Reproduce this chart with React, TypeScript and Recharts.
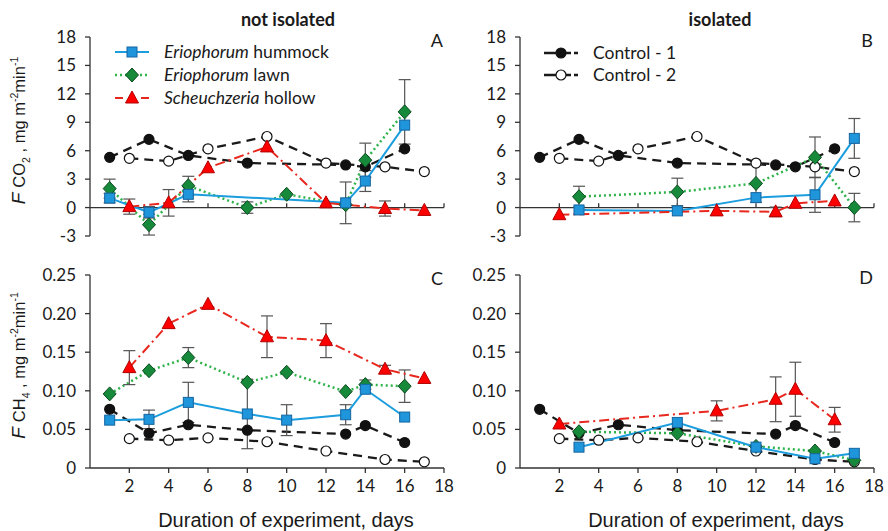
import React from 'react';
import { LineChart, Line, XAxis, YAxis, ErrorBar, ReferenceLine } from 'recharts';

const xTicks = [2, 4, 6, 8, 10, 12, 14, 16, 18];
const co2Ticks = [-3, 0, 3, 6, 9, 12, 15, 18];
const ch4Ticks = [0, 0.05, 0.1, 0.15, 0.2, 0.25];

// controls (same in both columns)
const control1Days = [1, 3, 5, 8, 13, 14, 16];
const control1Co2 = [5.3, 7.2, 5.5, 4.7, 4.5, 4.3, 6.2];
const control1Ch4 = [0.076, 0.045, 0.056, 0.049, 0.044, 0.055, 0.033];
const control2Days = [2, 4, 6, 9, 12, 15, 17];
const control2Co2 = [5.2, 4.9, 6.2, 7.5, 4.7, 4.3, 3.8];
const control2Ch4 = [0.038, 0.036, 0.039, 0.034, 0.022, 0.011, 0.008];

// A - CO2, not isolated
const hummockDaysA = [1, 3, 5, 13, 14, 16];
const hummockCo2A = [1.0, -0.5, 1.4, 0.5, 2.8, 8.7];
const hummockCo2ErrA = [0.5, 0.6, 0.8, 2.2, 1.1, 0];
const lawnDaysA = [1, 3, 5, 8, 10, 13, 14, 16];
const lawnCo2A = [2.0, -1.8, 2.3, 0, 1.4, 0.3, 5.0, 10.1];
const lawnCo2ErrA = [1.0, 1.1, 1.0, 0.6, 0, 0, 1.8, 3.4];
const hollowDaysA = [2, 4, 6, 9, 12, 15, 17];
const hollowCo2A = [0.1, 0.5, 4.2, 6.4, 0.5, -0.1, -0.3];
const hollowCo2ErrA = [0.8, 1.4, 0, 0, 0, 0.8, 0];

// B - CO2, isolated
const hummockDaysB = [3, 8, 12, 15, 17];
const hummockCo2B = [-0.25, -0.35, 1.05, 1.35, 7.3];
const hummockCo2ErrB = [0, 0, 0, 1.85, 2.1];
const lawnDaysB = [3, 8, 12, 15, 17];
const lawnCo2B = [1.15, 1.65, 2.55, 5.3, 0];
const lawnCo2ErrB = [1.1, 1.45, 2.0, 2.15, 1.5];
const hollowDaysB = [2, 10, 13, 14, 16];
const hollowCo2B = [-0.75, -0.35, -0.45, 0.45, 0.7];
const hollowCo2ErrB = [0, 0, 0.5, 0, 0];

// C - CH4, not isolated
const hummockDaysC = [1, 3, 5, 8, 10, 13, 14, 16];
const hummockCh4C = [0.062, 0.063, 0.085, 0.07, 0.062, 0.069, 0.102, 0.066];
const hummockCh4ErrC = [0, 0.012, 0.026, 0.045, 0.02, 0.013, 0, 0];
const lawnDaysC = [1, 3, 5, 8, 10, 13, 14, 16];
const lawnCh4C = [0.096, 0.126, 0.143, 0.111, 0.124, 0.099, 0.108, 0.106];
const lawnCh4ErrC = [0, 0, 0.013, 0, 0, 0, 0.006, 0.021];
const hollowDaysC = [2, 4, 6, 9, 12, 15, 17];
const hollowCh4C = [0.13, 0.187, 0.212, 0.17, 0.165, 0.128, 0.116];
const hollowCh4ErrC = [0.022, 0, 0, 0.027, 0.022, 0.005, 0];

// D - CH4, isolated
const hummockDaysD = [3, 8, 12, 15, 17];
const hummockCh4D = [0.027, 0.059, 0.027, 0.012, 0.019];
const lawnDaysD = [3, 8, 12, 15, 17];
const lawnCh4D = [0.047, 0.045, 0.028, 0.022, 0.01];
const hollowDaysD = [2, 10, 13, 14, 16];
const hollowCh4D = [0.057, 0.074, 0.089, 0.102, 0.0625];
const hollowCh4ErrD = [0, 0.013, 0.029, 0.035, 0.016];

const toPoints = (days: number[], vals: number[], errs?: number[]) =>
  days.map((d, i) => ({ day: d, value: vals[i], err: errs ? errs[i] : 0 }));

const AXIS = '#333';
const TEXT = '#1a1a1a';
const ERR = '#555';

const Square = ({ cx, cy }: any) => (
  <rect x={cx - 5} y={cy - 5} width={10} height={10} fill="#1f95dc" stroke="#1565a0" strokeWidth={1} />
);
const Diamond = ({ cx, cy }: any) => (
  <polygon points={`${cx},${cy - 7} ${cx + 6.5},${cy} ${cx},${cy + 7} ${cx - 6.5},${cy}`} fill="#17893a" stroke="#0b4a1e" strokeWidth={1} />
);
const Triangle = ({ cx, cy }: any) => (
  <polygon points={`${cx},${cy - 7} ${cx + 6.5},${cy + 5} ${cx - 6.5},${cy + 5}`} fill="#ff0000" stroke="#b00000" strokeWidth={1} />
);
const Dot = ({ cx, cy, open }: any) => (
  <circle cx={cx} cy={cy} r={5} fill={open ? '#fff' : '#111'} stroke="#111" strokeWidth={1.2} />
);

const styles = {
  control1: { stroke: '#1a1a1a', dash: '9 6', width: 2.3, dot: (p: any) => <Dot key={p.index} cx={p.cx} cy={p.cy} /> },
  control2: { stroke: '#1a1a1a', dash: '9 6', width: 2.3, dot: (p: any) => <Dot key={p.index} cx={p.cx} cy={p.cy} open /> },
  lawn: { stroke: '#2db34a', dash: '2 3', width: 2.5, dot: (p: any) => <Diamond key={p.index} cx={p.cx} cy={p.cy} /> },
  hummock: { stroke: '#1b9dde', dash: undefined, width: 2, dot: (p: any) => <Square key={p.index} cx={p.cx} cy={p.cy} /> },
  hollow: { stroke: '#e8281e', dash: '10 4 2 4', width: 2, dot: (p: any) => <Triangle key={p.index} cx={p.cx} cy={p.cy} /> },
};

type Series = { key: keyof typeof styles; data: { day: number; value: number; err: number }[] };

const AxisTitle = ({ x, y, gas, sub }: any) => (
  <text transform={`translate(${x},${y}) rotate(-90)`} textAnchor="middle" fontFamily="'Liberation Sans', Arial, sans-serif" fontSize={16.5} fill={TEXT}>
    <tspan fontStyle="italic" fontSize={19}>F</tspan>
    <tspan dx={5}>{gas}</tspan>
    <tspan fontSize={10.5} dy={5}>{sub}</tspan>
    <tspan dy={-5}> , mg m</tspan>
    <tspan fontSize={10.5} dy={-7}>-2</tspan>
    <tspan dy={7}>min</tspan>
    <tspan fontSize={10.5} dy={-7}>-1</tspan>
  </text>
);

type PanelProps = {
  left: number;
  top: number;
  height: number;
  marginTop: number;
  marginBottom: number;
  yDomain: [number, number];
  yTicks: number[];
  bottomRow: boolean;
  series: Series[];
  gas?: string;
  sub?: string;
};

function Panel({ left, top, height, marginTop, marginBottom, yDomain, yTicks, bottomRow, series, gas, sub }: PanelProps) {
  const tickStyle = { fill: TEXT, fontSize: 17, fontFamily: 'Lato, sans-serif' };
  return (
    <div style={{ position: 'absolute', left, top }}>
      <LineChart width={454} height={height} margin={{ top: marginTop, right: 10, bottom: marginBottom, left: 0 }}>
        <XAxis
          dataKey="day"
          type="number"
          domain={[0, 18]}
          ticks={xTicks}
          interval={0}
          hide={!bottomRow}
          height={30}
          axisLine={{ stroke: AXIS, strokeWidth: 1.3 }}
          tickLine={{ stroke: AXIS, strokeWidth: 1.3 }}
          tickSize={5}
          tickMargin={7}
          tick={tickStyle}
          label={
            bottomRow
              ? ({ viewBox }: any) => (
                  <text x={viewBox.x + viewBox.width / 2 + 19} y={viewBox.y + 59} textAnchor="middle" fontFamily="'Liberation Sans', Arial, sans-serif" fontSize={20} fill={TEXT}>
                    Duration of experiment, days
                  </text>
                )
              : undefined
          }
        />
        <YAxis
          type="number"
          domain={yDomain}
          ticks={yTicks}
          interval={0}
          width={90}
          axisLine={{ stroke: AXIS, strokeWidth: 1.3 }}
          tickLine={{ stroke: AXIS, strokeWidth: 1.3 }}
          tickSize={5}
          tickMargin={9}
          tick={tickStyle}
          tickFormatter={(v: number) => (yTicks === ch4Ticks ? (v === 0 ? '0' : v.toFixed(2)) : String(v))}
          label={
            gas
              ? ({ viewBox }: any) => <AxisTitle x={viewBox.x + 25} y={viewBox.y + viewBox.height / 2 - 6} gas={gas} sub={sub} />
              : undefined
          }
        />
        {!bottomRow && <ReferenceLine y={0} stroke={AXIS} strokeWidth={1.3} />}
        {!bottomRow &&
          xTicks.map((t) => (
            <ReferenceLine key={t} segment={[{ x: t, y: 0 }, { x: t, y: 0.45 }]} stroke={AXIS} strokeWidth={1.3} />
          ))}
        {series.map((s) => {
          const st = styles[s.key];
          return (
            <Line
              key={s.key}
              data={s.data}
              dataKey="value"
              type="linear"
              stroke={st.stroke}
              strokeWidth={st.width}
              strokeDasharray={st.dash}
              dot={st.dot}
              activeDot={false}
              isAnimationActive={false}
            >
              <ErrorBar dataKey="err" direction="y" width={6} stroke={ERR} strokeWidth={1.2} />
            </Line>
          );
        })}
      </LineChart>
    </div>
  );
}

const seriesA: Series[] = [
  { key: 'control1', data: toPoints(control1Days, control1Co2) },
  { key: 'control2', data: toPoints(control2Days, control2Co2) },
  { key: 'lawn', data: toPoints(lawnDaysA, lawnCo2A, lawnCo2ErrA) },
  { key: 'hummock', data: toPoints(hummockDaysA, hummockCo2A, hummockCo2ErrA) },
  { key: 'hollow', data: toPoints(hollowDaysA, hollowCo2A, hollowCo2ErrA) },
];
const seriesB: Series[] = [
  { key: 'control1', data: toPoints(control1Days, control1Co2) },
  { key: 'control2', data: toPoints(control2Days, control2Co2) },
  { key: 'lawn', data: toPoints(lawnDaysB, lawnCo2B, lawnCo2ErrB) },
  { key: 'hummock', data: toPoints(hummockDaysB, hummockCo2B, hummockCo2ErrB) },
  { key: 'hollow', data: toPoints(hollowDaysB, hollowCo2B, hollowCo2ErrB) },
];
const seriesC: Series[] = [
  { key: 'control1', data: toPoints(control1Days, control1Ch4) },
  { key: 'control2', data: toPoints(control2Days, control2Ch4) },
  { key: 'lawn', data: toPoints(lawnDaysC, lawnCh4C, lawnCh4ErrC) },
  { key: 'hummock', data: toPoints(hummockDaysC, hummockCh4C, hummockCh4ErrC) },
  { key: 'hollow', data: toPoints(hollowDaysC, hollowCh4C, hollowCh4ErrC) },
];
const seriesD: Series[] = [
  { key: 'control1', data: toPoints(control1Days, control1Ch4) },
  { key: 'control2', data: toPoints(control2Days, control2Ch4) },
  { key: 'lawn', data: toPoints(lawnDaysD, lawnCh4D) },
  { key: 'hummock', data: toPoints(hummockDaysD, hummockCh4D) },
  { key: 'hollow', data: toPoints(hollowDaysD, hollowCh4D, hollowCh4ErrD) },
];

const LegendRow = ({ x, y, kind, children }: any) => {
  const st = styles[kind as keyof typeof styles];
  const Marker = kind === 'hummock' ? Square : kind === 'lawn' ? Diamond : kind === 'hollow' ? Triangle : Dot;
  return (
    <g>
      <line x1={x} y1={y} x2={x + 34} y2={y} stroke={st.stroke} strokeWidth={st.width} strokeDasharray={kind === 'hollow' ? '8 5' : kind.startsWith('control') ? '12 3' : st.dash} />
      <Marker cx={x + 17} cy={y} open={kind === 'control2'} />
      <text x={x + 49} y={y + 6} fontFamily="Lato, sans-serif" fontSize={17.5} fill={TEXT}>
        {children}
      </text>
    </g>
  );
};

export default function App() {
  const letter = { fontFamily: 'Lato, sans-serif', fontSize: 18, fill: TEXT, textAnchor: 'end' as const };
  return (
    <div style={{ position: 'absolute', left: 0, top: 0, width: 888, height: 531, background: '#fff', overflow: 'hidden' }}>
      <Panel left={0} top={0} height={250} marginTop={37} marginBottom={14} yDomain={[-3, 18]} yTicks={co2Ticks} bottomRow={false} series={seriesA} gas="CO" sub="2" />
      <Panel left={430} top={0} height={250} marginTop={37} marginBottom={14} yDomain={[-3, 18]} yTicks={co2Ticks} bottomRow={false} series={seriesB} />
      <Panel left={0} top={240} height={291} marginTop={35} marginBottom={33} yDomain={[0, 0.25]} yTicks={ch4Ticks} bottomRow series={seriesC} gas="CH" sub="4" />
      <Panel left={430} top={240} height={291} marginTop={35} marginBottom={33} yDomain={[0, 0.25]} yTicks={ch4Ticks} bottomRow series={seriesD} />
      <svg width={888} height={531} style={{ position: 'absolute', left: 0, top: 0, pointerEvents: 'none' }}>
        <text x={288} y={26} textAnchor="middle" fontFamily="Lato, sans-serif" fontWeight="bold" fontSize={18} fill={TEXT}>not isolated</text>
        <text x={720} y={26} textAnchor="middle" fontFamily="Lato, sans-serif" fontWeight="bold" fontSize={18} fill={TEXT}>isolated</text>
        <text x={443} y={47} {...letter}>A</text>
        <text x={873} y={47} {...letter}>B</text>
        <text x={443} y={285} {...letter}>C</text>
        <text x={873} y={284} {...letter}>D</text>
        <LegendRow x={115} y={52} kind="hummock"><tspan fontStyle="italic">Eriophorum</tspan> hummock</LegendRow>
        <LegendRow x={115} y={75} kind="lawn"><tspan fontStyle="italic">Eriophorum</tspan> lawn</LegendRow>
        <LegendRow x={115} y={98} kind="hollow"><tspan fontStyle="italic">Scheuchzeria</tspan> hollow</LegendRow>
        <LegendRow x={544} y={53} kind="control1">Control - 1</LegendRow>
        <LegendRow x={544} y={75} kind="control2">Control - 2</LegendRow>
      </svg>
    </div>
  );
}
